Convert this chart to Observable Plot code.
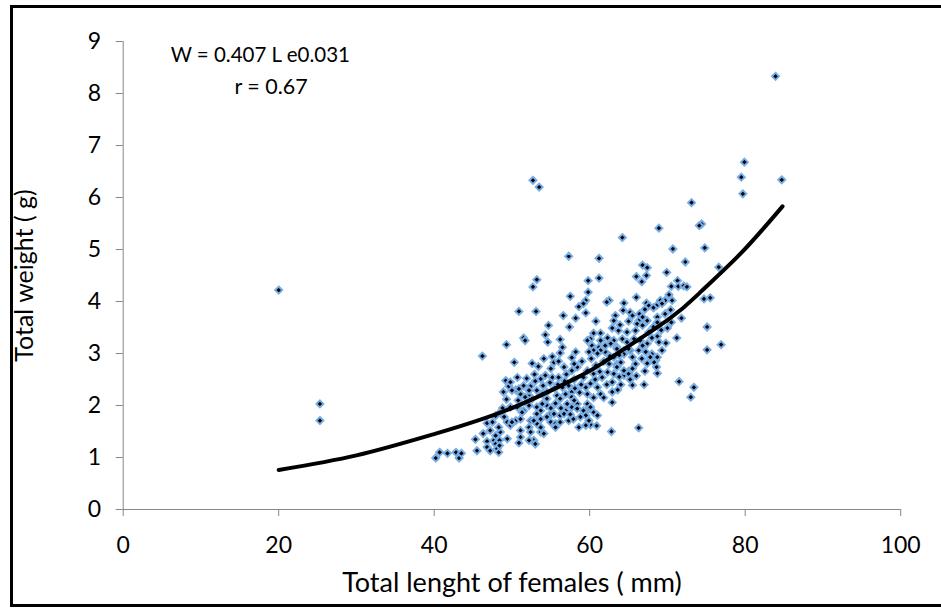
<!DOCTYPE html>
<html>
<head>
<meta charset="utf-8">
<script src="https://cdn.jsdelivr.net/npm/d3@7"></script>
<script src="https://cdn.jsdelivr.net/npm/@observablehq/plot@0.6"></script>
<style>
  html, body { margin: 0; padding: 0; background: #fff; }
  #wrap { position: relative; width: 941px; height: 611px; overflow: hidden; }
  #border { position: absolute; left: 10px; top: 5px; width: 960px; height: 596px;
            border-left: 3px solid #000; border-top: 3px solid #000; border-bottom: 3px solid #000; pointer-events: none; }
  svg { display: block; }
</style>
</head>
<body>
<div id="wrap"><div id="border"></div></div>
<script>
// Observed (length mm, weight g) pairs for females
const females = [
 [20.0,4.22],[25.3,2.03],[25.3,1.71],
 [40.2,0.99],[40.7,1.10],[41.7,1.08],[42.8,1.10],[43.2,0.99],[43.5,1.08],
 [52.7,6.33],[53.5,6.20],[83.9,8.33],[79.9,6.68],[79.5,6.39],[79.7,6.07],[84.7,6.34],
 [73.1,5.90],[68.9,5.41],[64.2,5.23],[74.4,5.49],[74.1,5.46],
 [57.3,4.87],[61.2,4.83],[70.7,5.01],[74.8,5.03],[72.3,4.76],[76.6,4.66],
 [66.8,4.70],[67.4,4.65],[66.0,4.48],[66.7,4.38],[67.3,4.50],[69.9,4.56],[71.3,4.40],
 [70.5,4.29],[71.4,4.29],[72.1,4.30],[72.5,4.28],
 [53.2,4.42],[52.7,4.28],[59.8,4.40],[61.2,4.45],
 [74.7,4.05],[75.5,4.07],[75.1,3.51],[75.1,3.07],[76.9,3.17],
 [68.7,2.62],[68.5,2.87],[71.5,2.46],[73.4,2.35],[73.0,2.16],[65.5,2.39],[67.0,2.40],
 [62.9,2.06],[66.3,1.57],[62.8,1.50],[60.1,1.63],[60.9,1.61],[59.9,1.95],[59.4,1.87],
 [59.7,2.22],[62.9,2.26],[64.0,2.40],[65.0,2.66],[64.4,2.58],[63.5,2.79],
 [57.5,4.10],[58.6,3.90],[50.9,3.81],[53.1,3.81],[56.6,3.73],[58.2,3.68],[54.7,3.54],[57.4,3.51],
 [54.3,3.36],[54.6,3.22],[51.5,3.30],[51.7,3.25],[56.2,3.27],[56.5,3.12],[49.3,3.17],[46.2,2.95],
 [55.2,2.94],[56.2,3.01],[58.2,3.03],
 [50.3,2.83],[52.6,2.81],[53.4,2.75],[55.4,2.83],[55.0,2.71],[56.7,2.74],[57.7,2.67],[58.4,2.74],
 [49.2,2.48],[49.6,2.37],[51.5,2.38],[50.5,2.30],[51.1,2.22],[52.4,2.37],[53.2,2.29],[53.7,2.51],
 [54.3,2.58],[55.2,2.54],[56.0,2.54],[56.5,2.35],[57.3,2.38],[57.7,2.26],[56.9,2.22],[55.8,2.19],
 [54.5,2.26],[53.9,2.22],
 [49.3,2.12],[49.8,1.97],[50.7,1.97],[51.5,1.90],[52.2,2.00],[53.2,1.97],[53.7,1.90],[54.5,2.00],
 [55.6,2.04],[56.2,2.13],[57.1,2.03],[57.7,2.16],[58.4,2.03],
 [46.8,1.66],[47.5,1.68],[47.2,1.52],[46.3,1.46],[45.3,1.35],[46.8,1.31],[47.7,1.33],[48.5,1.49],
 [49.4,1.68],[49.8,1.62],[50.5,1.71],[51.1,1.52],[51.1,1.39],[52.2,1.58],[52.4,1.71],[53.2,1.65],
 [53.7,1.49],[52.8,1.33],[54.1,1.46],[55.0,1.68],[55.6,1.65],[56.2,1.81],[55.0,1.84],[56.9,1.90],
 [57.7,1.97],[47.9,1.26],[48.1,1.17],[48.3,1.10],[45.5,1.13],
 [50.7,2.54],[49.8,2.45],[52.2,2.19],[51.7,2.16],[52.6,2.13],[53.9,2.03],[54.5,2.13],[53.2,1.84],[53.7,1.74],
 [59.8,4.18],[66.0,4.08],[70.2,4.13],[69.7,4.02],[70.6,4.02],[69.1,4.02],[69.3,3.96],[68.6,3.92],
 [67.3,3.97],[67.6,3.92],[68.2,3.88],[64.4,3.97],[62.5,4.02],[62.2,3.99],[59.5,4.02],[59.2,3.96],
 [59.5,3.78],[60.8,3.62],
 [64.3,3.83],[65.2,3.79],[65.5,3.73],[66.4,3.76],[66.8,3.70],[66.3,3.63],[63.3,3.73],[63.1,3.63],[62.9,3.49],
 [68.7,3.70],[68.7,3.60],[69.7,3.76],[70.4,3.84],[68.2,3.51],[67.4,3.63],[71.8,3.68],[70.0,3.49],[71.2,3.30],
 [60.5,3.39],[61.4,3.39],[60.1,3.28],[59.7,3.25],[60.3,3.15],[61.4,3.25],[61.2,3.12],[60.5,3.06],[59.9,3.03],
 [63.7,3.44],[64.8,3.41],[65.9,3.44],[66.1,3.57],[66.8,3.54],[67.6,3.41],[68.7,3.33],[68.0,3.30],
 [68.9,3.22],[67.4,3.19],[66.5,3.25],[65.7,3.28],[64.8,3.22],[64.2,3.28],[63.1,3.25],[62.7,3.19],
 [63.5,3.12],[64.4,3.06],[65.2,3.06],[66.3,3.06],[67.2,3.03],[68.0,2.99],[69.3,3.06],[68.7,2.93],
 [65.5,2.93],[63.1,2.93],[62.0,3.03],[62.0,3.15],
 [66.8,3.15],[65.0,3.09],[64.4,2.99],[63.5,3.09],[61.4,3.06],[67.8,2.93],[68.3,2.83],[67.4,2.81],[68.6,2.74],
 [64.0,2.83],[65.9,2.80],[62.5,2.80],[63.5,2.74],[64.4,2.67],[65.0,2.61],[65.5,2.71],[63.1,2.61],
 [62.3,2.64],[61.6,2.54],[60.5,2.61],[59.7,2.67],[59.2,2.54],[59.5,2.35],[60.1,2.42],[61.0,2.35],
 [62.9,2.45],[61.4,2.22],
 [59.7,2.03],[59.2,1.90],[60.1,1.97],[59.5,1.81],
 [57.7,2.92],[50.0,2.29],[50.9,2.32],[52.2,2.29],
 [48.5,1.87],[51.3,1.87],[51.1,1.74],[50.0,1.68],[48.3,1.58],[47.9,1.42],[48.4,1.33],[48.4,1.23],
 [46.8,1.20],[47.2,1.13],[49.4,1.36],[50.9,1.28],[52.4,1.49],[53.0,1.26],[52.2,1.33],
 [52.8,1.71],[54.5,1.78],[55.4,1.84],[53.7,1.58],[55.6,1.58],[56.2,1.68],[56.7,1.84],[57.3,1.71],
 [57.9,1.74],[58.8,1.78],[58.4,1.94],[58.6,1.58],[59.5,1.62],[59.9,1.71],[60.5,1.87],[61.0,1.81],
 [55.9,2.40],[56.8,2.47],[58.0,2.50],[58.9,2.40],[58.7,2.25],[58.1,2.33],[57.0,2.60],[55.5,2.33],
 [54.9,2.44],[54.0,2.38],[53.0,2.47],[52.9,2.60],[51.9,2.52],[60.8,2.77],[61.8,2.85],[62.6,2.95],
 [63.8,2.97],[61.3,2.65],[60.7,2.50],[62.2,2.40],[63.8,2.55],[66.7,2.90],[67.1,2.66],[66.0,2.57],
 [60.2,2.90],[59.0,2.85],[58.0,2.80],[56.0,2.85],[54.1,2.90],[50.8,2.10],[48.9,2.26],[48.8,1.95],
 [49.0,1.78],[47.9,1.80],[55.0,1.95],[56.3,1.95],[57.5,1.83],[58.0,2.10],[61.8,2.15],[60.5,2.15],
 [63.6,2.30],[65.2,2.50],[61.0,3.00],[62.3,3.30],[63.9,3.55],[65.0,3.62],[67.1,3.85],[69.2,3.45],
 [70.5,3.60],[69.8,3.20]
];

// Fitted curve
const fitLength = [20, 30, 40, 50, 58.8, 62, 70, 74.3, 79.4, 84.8];
const fitWeight = [0.76, 1.04, 1.45, 1.95, 2.57, 2.85, 3.64, 4.19, 4.92, 5.83];

const xTicks = [0, 20, 40, 60, 80, 100];
const yTicks = [0, 1, 2, 3, 4, 5, 6, 7, 8, 9];

const equationText = "W = 0.407 L e0.031";
const rText = "r = 0.67";
const xTitle = "Total lenght of females ( mm)";
const yTitle = "Total weight ( g)";

const pts = females.map(([L, W]) => ({L, W}));
const fit = fitLength.map((L, i) => ({L, W: fitWeight[i]}));

const axisColor = "#868686";

const chart = Plot.plot({
  width: 941,
  height: 611,
  marginLeft: 122.7,
  marginRight: 40.8,
  marginTop: 41,
  marginBottom: 102,
  style: {fontFamily: "Lato, sans-serif", fontSize: "23px", color: "#000", background: "transparent"},
  x: {domain: [0, 100]},
  y: {domain: [0, 9]},
  marks: [
    Plot.ruleX([0], {stroke: axisColor, strokeWidth: 1}),
    Plot.ruleY([0], {stroke: axisColor, strokeWidth: 1}),
    Plot.axisX({ticks: xTicks, tickSize: 7, tickPadding: 20, stroke: axisColor, fill: "#000", label: null, tickFormat: d => String(d), fontSize: 23}),
    Plot.axisY({ticks: yTicks, tickSize: 7, tickPadding: 15, stroke: axisColor, fill: "#000", label: null, tickFormat: d => String(d), fontSize: 23}),
    Plot.dot(pts, {x: "L", y: "W", symbol: "diamond2", r: 3.2, fill: "#03030f", stroke: "#78aee3", strokeWidth: 1.9}),
    Plot.line(fit, {x: "L", y: "W", curve: "natural", stroke: "#000", strokeWidth: 4}),
    Plot.text([equationText], {x: 6.1, y: 8.73, text: d => d, textAnchor: "start", fontSize: 20.5}),
    Plot.text([rText], {x: 14.3, y: 8.12, text: d => d, textAnchor: "start", fontSize: 21.5}),
    Plot.text([xTitle], {frameAnchor: "bottom", dy: 74, lineAnchor: "middle", textAnchor: "middle", text: d => d, fontSize: 27}),
    Plot.text([yTitle], {frameAnchor: "left", dx: -98.5, rotate: -90, lineAnchor: "middle", textAnchor: "middle", text: d => d, fontSize: 25})
  ]
});
document.getElementById("wrap").prepend(chart);
</script>
</body>
</html>
